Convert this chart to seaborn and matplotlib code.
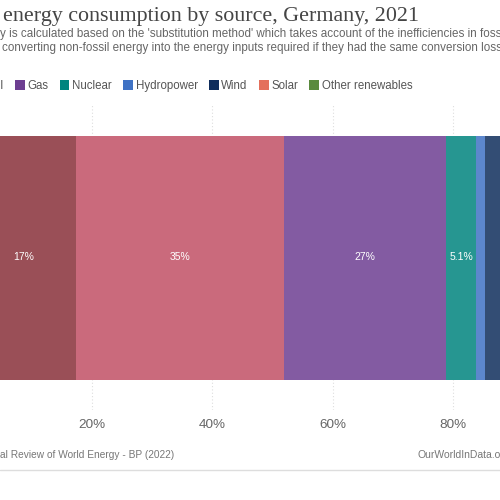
import numpy as np
import pandas as pd
import matplotlib
matplotlib.use("Agg")
import matplotlib.pyplot as plt
import matplotlib.colors as mcolors
from matplotlib.patches import Patch
from matplotlib.lines import Line2D
import seaborn as sns

# data (shares of primary energy, %)
sources = ["Coal", "Oil", "Gas", "Nuclear", "Hydropower", "Wind", "Solar", "Other renewables"]
shares = [17.4, 34.6, 26.8, 5.1, 1.4, 7.9, 4.3, 2.5]
base_colors = ["#883039", "#C15065", "#6D3E91", "#00847E", "#3F72C4", "#0F2D5C", "#E4705C", "#5A8A3E"]
xticks = [20, 40, 60, 80]
xtick_labels = ["20%", "40%", "60%", "80%"]

df = pd.DataFrame({"source": sources, "share": shares, "color": base_colors})
df["cum"] = df["share"].cumsum()
df["mid"] = df["cum"] - df["share"] / 2
df["country"] = "Germany"


def lighten(c, a=0.85):
    rgb = np.array(mcolors.to_rgb(c))
    return tuple(rgb * a + (1 - a))


sns.set_theme(style="white")
plt.rcParams["font.family"] = ["Liberation Sans", "DejaVu Sans"]

fig = plt.figure(figsize=(5, 5), dpi=100)
ax = fig.add_axes([0, 1 - 410 / 500, 1, 305 / 500])

# stacked bar: draw cumulative totals largest first so each overlaps the next
for _, row in df.iloc[::-1].iterrows():
    sns.barplot(x=[row["cum"]], y=[row["country"]], orient="h", color=lighten(row["color"]),
                saturation=1, width=0.8, linewidth=0, ax=ax)

xlim = (4.70, 87.83)
ax.set_xlim(*xlim)
ax.set_ylim(0.5, -0.5)
ax.set_xticks(xticks)
ax.set_xticklabels(xtick_labels)
ax.set_yticks([])
ax.set_xlabel("")
ax.set_ylabel("")
sns.despine(ax=ax, left=True, bottom=True)
ax.set_axisbelow(True)
ax.grid(True, axis="x", color="#dedede", linestyle=(0, (1, 2)), linewidth=0.8)
ax.grid(False, axis="y")
ax.tick_params(axis="x", length=0, pad=6.5, labelsize=9.7, labelcolor="#666666")

for _, row in df.iterrows():
    if row["share"] < 3 or row["mid"] > xlim[1]:
        continue
    lab = f"{row['share']:.0f}%" if row["share"] >= 10 else f"{row['share']:.1f}%"
    ax.text(row["mid"], 0, lab, color="white", ha="center", va="center", fontsize=7.5)

# header
fig.text(3 / 500, 1 - 16 / 500, "energy consumption by source, Germany, 2021",
         family=["Liberation Serif", "DejaVu Serif"], fontsize=15.8, color="#454545",
         ha="left", va="center")
fig.text(0, 1 - 34 / 500,
         "y is calculated based on the 'substitution method' which takes account of the inefficiencies in foss",
         fontsize=8.4, color="#666666", ha="left", va="center")
fig.text(2 / 500, 1 - 48 / 500,
         "converting non-fossil energy into the energy inputs required if they had the same conversion losse",
         fontsize=8.4, color="#666666", ha="left", va="center")

# legend: the chart is cropped, so Coal/Oil sit left of the visible area
handles = [Patch(facecolor=c, edgecolor="none", label=s) for s, c in zip(sources, base_colors)]
leg_kw = dict(handles=handles, ncol=len(sources), loc="center left", frameon=False, fontsize=8.3,
              handlelength=0.85, handleheight=0.85, handletextpad=0.25, columnspacing=0.95,
              borderpad=0, borderaxespad=0, labelcolor="#555555")
leg = fig.legend(bbox_to_anchor=(-0.15, 1 - 86 / 500), **leg_kw)
fig.canvas.draw()
gas_x = leg.legend_handles[2].get_window_extent(fig.canvas.get_renderer()).x0
shift = (15 - gas_x) / 500
leg.remove()
fig.legend(bbox_to_anchor=(-0.15 + shift, 1 - 86 / 500), **leg_kw)

# footer
fig.text(0, 1 - 455 / 500, "al Review of World Energy - BP (2022)", fontsize=7.3, color="#777777",
         ha="left", va="center")
fig.text(417 / 500, 1 - 455 / 500, "OurWorldInData.org", fontsize=7.5, color="#777777",
         ha="left", va="center")
fig.add_artist(Line2D([0, 1], [1 - 470 / 500] * 2, color="#dddddd", linewidth=1))

fig.savefig("out.png", dpi=100, facecolor="white")
